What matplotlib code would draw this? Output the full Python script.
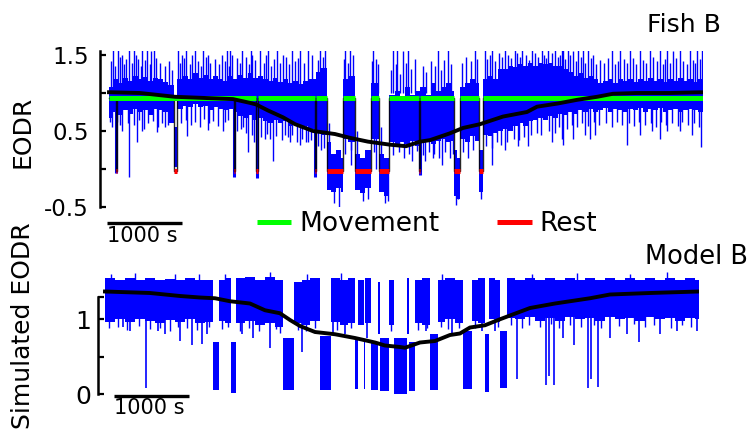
"""
EODR of fish B (recorded) and model B (simulated), with movement/rest state
"""

import numpy as np
import matplotlib.pyplot as plt

plt.rcParams.update({
    "font.family": "DejaVu Sans",
    "figure.facecolor": "white",
    "axes.facecolor": "white",
})

BLUE = "#0000ff"
GREEN = "#00ff00"
RED = "#ff0000"

# ── Fish B: EODR band (core of the noisy trace), time in s ────────────
FISH_T = [0, 53, 120, 187, 253, 320, 387, 453, 520, 587,
          653, 720, 787, 860, 913, 987, 1053, 1120, 1187, 1253,
          1320, 1387, 1453, 1520, 1587, 1653, 1720, 1787, 1853, 1920,
          1987, 2053, 2120, 2187, 2253, 2320, 2387, 2453, 2520, 2587,
          2653, 2760, 2827, 2903, 2960, 3027, 3093, 3116, 3187, 3280,
          3347, 3413, 3493, 3604, 3667, 3737, 3813, 3880, 3947, 4013,
          4080, 4153, 4227, 4293, 4360, 4427, 4493, 4560, 4604, 4640,
          4680, 4747, 4813, 4880, 4933, 4987, 5053, 5120, 5187, 5253,
          5320, 5387, 5453, 5520, 5587, 5653, 5720, 5787, 5853, 5920,
          5987, 6053, 6120, 6187, 6253, 6320, 6387, 6453, 6520, 6587,
          6653, 6720, 6787, 6853, 6920, 6987, 7053, 7120, 7187, 7253,
          7320, 7387, 7453, 7520, 7587, 7653, 7720, 7787, 7853, 7920]
FISH_HI = [1.08, 1.18, 1.13, 1.20, 1.16, 1.23, 1.18, 1.21, 1.16, 1.20,
           1.18, 1.14, 1.10, 0.55, 1.18, 1.23, 1.18, 1.26, 1.20, 1.24,
           1.18, 1.22, 1.18, 1.16, 1.22, 1.18, 1.24, 1.20, 1.26, 1.20,
           1.23, 1.18, 1.16, 1.20, 1.14, 1.18, 1.13, 1.16, 1.12, 1.16,
           1.18, 1.28, 1.33, 0.35, 0.20, 0.25, 0.15, 1.18, 1.23, 0.20,
           0.15, 0.25, 1.13, 0.20, 0.15, 0.98, 1.03, 0.93, 1.08, 0.98,
           1.03, 1.08, 0.98, 1.13, 1.03, 1.08, 1.13, 1.03, 0.25, 0.15,
           1.08, 1.13, 1.18, 1.13, 0.25, 1.18, 1.23, 1.18, 1.32, 1.32,
           1.36, 1.34, 1.38, 1.36, 1.40, 1.36, 1.40, 1.38, 1.40, 1.36,
           1.36, 1.32, 1.28, 1.23, 1.26, 1.20, 1.23, 1.18, 1.13, 1.16,
           1.18, 1.13, 1.18, 1.16, 1.18, 1.14, 1.18, 1.16, 1.20, 1.16,
           1.18, 1.14, 1.18, 1.16, 1.20, 1.16, 1.18, 1.14, 1.18, 1.18]
FISH_LO = [0.67, 0.75, 0.71, 0.77, 0.73, 0.79, 0.75, 0.77, 0.71, 0.79,
           0.77, 0.75, 0.60, 0.03, 0.79, 0.83, 0.81, 0.85, 0.81, 0.83,
           0.77, 0.81, 0.79, 0.77, 0.79, 0.75, 0.70, 0.67, 0.71, 0.65,
           0.67, 0.63, 0.60, 0.65, 0.60, 0.63, 0.57, 0.60, 0.55, 0.57,
           0.53, 0.50, 0.45, -0.28, -0.30, -0.25, -0.30, 0.40, 0.35, -0.28,
           -0.32, -0.25, 0.40, -0.30, -0.35, 0.35, 0.30, 0.35, 0.33, 0.37,
           0.30, 0.35, 0.40, 0.33, 0.37, 0.40, 0.35, 0.37, -0.35, -0.40,
           0.40, 0.35, 0.43, 0.37, -0.30, 0.45, 0.43, 0.47, 0.50, 0.53,
           0.50, 0.57, 0.60, 0.57, 0.63, 0.65, 0.67, 0.65, 0.70, 0.67,
           0.73, 0.71, 0.75, 0.73, 0.77, 0.75, 0.79, 0.75, 0.77, 0.80,
           0.75, 0.79, 0.77, 0.75, 0.79, 0.77, 0.80, 0.75, 0.79, 0.77,
           0.80, 0.75, 0.77, 0.79, 0.75, 0.77, 0.79, 0.77, 0.75, 0.75]

# tall spikes of the fish trace (reaching the top of the panel)
FISH_UP_T = [53, 120, 173, 267, 333, 387, 440, 507, 560, 600,
             920, 973, 1027, 1147, 1253, 1320, 1573, 1613, 1640, 1773,
             1893, 1907, 2013, 2120, 2240, 2320, 2440, 2547, 2653, 2813,
             2880, 3147, 3213, 3520, 3560, 3787, 3840, 3920, 3987, 4387,
             4520, 4880, 5013, 5107, 5280, 5413, 5507, 5640, 5773, 5853,
             5947, 6040, 6053, 6120, 6187, 6253, 6320, 6387, 6453, 6707,
             6813, 6947, 7080, 7213, 7347, 7440, 7520, 7613, 7747, 7840, 7907]
FISH_UP_V = [1.6, 1.6, 1.5, 1.6, 1.6, 1.45, 1.6, 1.6, 1.55, 1.6,
             1.6, 1.5, 1.6, 1.6, 1.6, 1.5, 1.6, 1.6, 1.5, 1.6,
             1.6, 1.5, 1.6, 1.6, 1.6, 1.5, 1.6, 1.6, 1.6, 1.6,
             1.6, 1.6, 1.6, 1.6, 1.45, 1.6, 1.6, 1.55, 1.6, 1.6,
             1.6, 1.6, 1.6, 1.6, 1.6, 1.6, 1.6, 1.6, 1.6, 1.6,
             1.6, 1.6, 1.6, 1.6, 1.55, 1.6, 1.6, 1.6, 1.5, 1.6,
             1.6, 1.6, 1.6, 1.6, 1.6, 1.6, 1.55, 1.6, 1.6, 1.6, 1.6]
# shorter upward excursions
FISH_MID_UP_T = [20, 75, 140, 200, 230, 300, 360, 420, 480, 540,
                 620, 680, 740, 800, 840,
                 940, 1000, 1080, 1110, 1180, 1220, 1290, 1350, 1410, 1470,
                 1500, 1550, 1600, 1700, 1740, 1820, 1860, 1940, 2060, 2090,
                 2160, 2200, 2280, 2360, 2400, 2480, 2520, 2600, 2700, 2780, 2850,
                 3130, 3180, 3250, 3510, 3580,
                 3760, 3820, 3880, 3960, 4030, 4080, 4180, 4230, 4290, 4340,
                 4420, 4470, 4560, 4700, 4760, 4820, 4910,
                 5040, 5080, 5150, 5200, 5240, 5320, 5360, 5440, 5480, 5560,
                 5600, 5680, 5720, 5800, 5830, 5900, 5980, 6010, 6080, 6150,
                 6220, 6290, 6350, 6420, 6490, 6550, 6600, 6650, 6750, 6780,
                 6860, 6900, 6980, 7030, 7120, 7160, 7250, 7300, 7380, 7410,
                 7480, 7560, 7650, 7700, 7780, 7810, 7880]
FISH_MID_UP_V = [1.42, 1.35, 1.48, 1.38, 1.45, 1.40, 1.50, 1.36, 1.44, 1.38,
                 1.46, 1.40, 1.35, 1.42, 1.30,
                 1.40, 1.46, 1.38, 1.50, 1.42, 1.36, 1.48, 1.40, 1.45, 1.38,
                 1.50, 1.42, 1.36, 1.46, 1.40, 1.48, 1.38, 1.44, 1.40, 1.50,
                 1.36, 1.45, 1.40, 1.48, 1.38, 1.42, 1.46, 1.40, 1.50, 1.44, 1.48,
                 1.45, 1.40, 1.50, 1.42, 1.38,
                 1.30, 1.38, 1.25, 1.40, 1.32, 1.45, 1.35, 1.28, 1.42, 1.36,
                 1.30, 1.44, 1.38, 1.40, 1.48, 1.42, 1.45,
                 1.45, 1.50, 1.42, 1.52, 1.48, 1.50, 1.46, 1.52, 1.48, 1.50,
                 1.44, 1.52, 1.48, 1.50, 1.46, 1.52, 1.48, 1.50, 1.45, 1.50,
                 1.42, 1.48, 1.40, 1.46, 1.38, 1.44, 1.40, 1.46, 1.38, 1.42,
                 1.45, 1.40, 1.46, 1.38, 1.44, 1.40, 1.48, 1.42, 1.38, 1.45,
                 1.40, 1.46, 1.42, 1.38, 1.44, 1.40, 1.45]
# deep downward excursions
FISH_DN_T = [13, 147, 267, 373, 440, 640, 747, 1040, 1320, 1520,
             1787, 1853, 1933, 2080, 2187, 2347, 2413, 2547, 2653, 2827,
             3227, 3560, 4040, 4213, 4320, 4440, 4547, 4787, 5107, 5280,
             5453, 5587, 5907, 6040, 6053, 6187, 6347, 6413, 6480, 6907,
             7080, 7240, 7347, 7440, 7613, 7773, 7893]
FISH_DN_V = [0.62, 0.58, -0.10, 0.36, 0.50, 0.49, 0.55, 0.43, 0.51, 0.50,
             0.55, 0.23, 0.35, 0.40, 0.10, 0.45, 0.35, 0.32, 0.35, 0.25,
             0.05, 0.00, 0.10, 0.10, 0.15, 0.05, 0.15, 0.15, 0.05, 0.25,
             0.30, 0.30, 0.35, 0.40, 0.32, 0.40, 0.45, 0.40, 0.45, 0.32,
             0.45, 0.50, 0.40, 0.50, 0.50, 0.45, 0.29]
# shorter downward excursions
FISH_MID_DN_T = [40, 110, 170, 250, 330, 400, 460, 520, 590, 650,
                 710, 780, 830,
                 960, 1020, 1090, 1150, 1210, 1270, 1330, 1390, 1450, 1540,
                 1590, 1700, 1760, 1830, 1900, 2020, 2100, 2150, 2230, 2300,
                 2380, 2440, 2500, 2570, 2620, 2690, 2790, 2870,
                 3150, 3220, 3530,
                 3790, 3860, 3930, 4000, 4100, 4190, 4260, 4330, 4400, 4480,
                 4580, 4720, 4850,
                 5020, 5100, 5170, 5220, 5300, 5400, 5470, 5530, 5620, 5700,
                 5760, 5860, 5940, 6000, 6100, 6170, 6240, 6310, 6380, 6460,
                 6530, 6620, 6700, 6770, 6840, 6930, 7000, 7070, 7140, 7220,
                 7290, 7360, 7430, 7500, 7580, 7640, 7720, 7800, 7860]
FISH_MID_DN_V = [0.55, 0.62, 0.50, 0.60, 0.58, 0.65, 0.52, 0.60, 0.63, 0.55,
                 0.60, 0.58, 0.62,
                 0.60, 0.65, 0.58, 0.62, 0.55, 0.66, 0.60, 0.63, 0.57, 0.62,
                 0.64, 0.50, 0.52, 0.48, 0.45, 0.42, 0.46, 0.40, 0.44, 0.38,
                 0.42, 0.45, 0.36, 0.40, 0.35, 0.38, 0.30, 0.28,
                 0.20, 0.25, 0.22,
                 0.18, 0.22, 0.15, 0.20, 0.24, 0.18, 0.22, 0.20, 0.15, 0.22,
                 0.20, 0.22, 0.25,
                 0.30, 0.28, 0.35, 0.32, 0.36, 0.40, 0.38, 0.42, 0.45, 0.48,
                 0.45, 0.50, 0.48, 0.55, 0.52, 0.58, 0.55, 0.60, 0.56, 0.62,
                 0.58, 0.60, 0.55, 0.62, 0.58, 0.60, 0.56, 0.62, 0.58, 0.60,
                 0.55, 0.62, 0.58, 0.60, 0.56, 0.62, 0.58, 0.60, 0.55]
# excursions during the long rest bouts
FISH_REST_SPIKE_T = [2930, 3000, 3060, 3300, 3380, 3450, 3620, 3680, 3720,
                     4620, 4650, 4960]
FISH_REST_SPIKE_V = [0.60, -0.45, -0.50, 0.50, -0.42, -0.40, 0.55, -0.45, -0.42,
                     -0.47, -0.40, -0.40]
# short rest bouts (narrow dips)
FISH_DIP_T = [95, 1670, 1973, 2750, 4140]
FISH_DIP_V = [-0.05, -0.10, -0.12, -0.10, -0.08]

# movement / rest state of the fish
MOVE_START = [0, 1987, 2760, 3116, 3493, 3737, 4153, 4680, 4987]
MOVE_END = [1960, 2740, 2903, 3280, 3604, 4127, 4604, 4933, 7920]
REST_START = [87, 860, 1660, 1960, 2740, 2903, 3280, 3604, 4127, 4604, 4933]
REST_END = [107, 913, 1680, 1987, 2760, 3116, 3493, 3737, 4153, 4680, 4987]
MOVE_LEVEL = 0.94
REST_LEVEL = -0.03

# smoothed fish EODR
FISH_SMOOTH_T = [0, 413, 880, 1653, 1880, 1960, 2120, 2320, 2480, 2720,
                 3013, 3213, 3453, 3747, 3960, 4147, 4280, 4547, 4720, 4947,
                 5253, 5573, 5707, 5973, 6240, 6507, 6720, 7040, 7480, 7920]
FISH_SMOOTH_V = [1.01, 1.00, 0.95, 0.92, 0.87, 0.85, 0.77, 0.68, 0.59, 0.50,
                 0.46, 0.41, 0.36, 0.32, 0.30, 0.36, 0.38, 0.47, 0.54, 0.59,
                 0.69, 0.75, 0.82, 0.86, 0.91, 0.95, 0.99, 1.00, 1.00, 1.01]

# ── Model B: simulated EODR band ─────────────────────────────────────
MODEL_T = [0, 133, 267, 400, 533, 667, 800, 933, 1067, 1200,
           1333, 1436, 1516, 1600, 1676, 1743, 1867, 2000, 2133, 2267,
           2377, 2520, 2627, 2733, 2867, 3013, 3133, 3240, 3333, 3377,
           3447, 3473, 3547, 3640, 3667, 3791, 3853, 4027, 4060, 4133,
           4227, 4333, 4436, 4533, 4667, 4777, 4889, 4973, 5067, 5124,
           5200, 5267, 5356, 5467, 5600, 5733, 5867, 6000, 6133, 6267,
           6400, 6533, 6667, 6800, 6933, 7067, 7200, 7333, 7467, 7600,
           7733, 7867, 7920]
MODEL_HI = [1.55, 1.52, 1.55, 1.53, 1.55, 1.52, 1.54, 1.52, 1.55, 1.53,
            1.52, 0.70, 1.52, 1.55, 0.70, 1.55, 1.56, 1.53, 1.57, 1.52,
            0.75, 1.50, 1.52, 1.55, 0.78, 1.55, 1.52, 1.55, 0.75, 1.52,
            0.70, 1.55, 0.70, 1.50, 0.75, 1.52, 0.75, 1.55, 0.70, 1.52,
            1.55, 0.80, 1.52, 1.55, 1.53, 0.85, 1.52, 1.55, 0.80, 1.55,
            1.53, 0.85, 1.55, 1.53, 1.55, 1.52, 1.55, 1.53, 1.55, 1.52,
            1.55, 1.53, 1.55, 1.52, 1.55, 1.53, 1.55, 1.52, 1.55, 1.53,
            1.55, 1.53, 1.53]
MODEL_LO = [0.97, 1.00, 0.96, 1.00, 0.98, 0.95, 0.99, 0.96, 1.00, 0.95,
            0.97, 0.06, 0.98, 0.95, 0.02, 0.95, 0.98, 0.92, 0.95, 0.90,
            0.06, 0.95, 0.92, 0.98, 0.06, 0.96, 0.92, 0.95, 0.07, 0.93,
            0.07, 0.95, 0.06, 0.80, 0.05, 0.92, 0.00, 0.80, 0.05, 0.95,
            0.92, 0.06, 0.96, 1.00, 0.95, 0.07, 0.98, 0.95, 0.03, 1.00,
            0.97, 0.08, 1.02, 1.00, 1.03, 0.98, 1.02, 0.98, 1.03, 1.00,
            1.02, 0.98, 1.03, 1.00, 1.02, 0.98, 1.03, 1.00, 1.02, 0.98,
            1.02, 1.00, 1.00]

MODEL_DN_T = [240, 333, 547, 707, 800, 1000, 1160, 1293, 1360, 1827,
              1973, 2200, 2627, 3040, 3200, 3493, 4280, 4627, 5027, 5200,
              5489, 5880, 5920, 5987, 6107, 6253, 6440, 6480, 6569, 6733,
              6960, 7120, 7400, 7627, 7893]
MODEL_DN_V = [0.90, 0.85, 0.09, 0.85, 0.80, 0.71, 0.66, 0.67, 0.80, 0.80,
              0.75, 0.62, 0.57, 0.80, 0.80, 0.75, 0.85, 0.80, 0.85, 0.85,
              0.21, 0.12, 0.25, 0.12, 0.75, 0.66, 0.08, 0.20, 0.10, 0.75,
              0.80, 0.70, 0.80, 0.85, 0.85]
MODEL_MID_DN_T = [60, 180, 300, 450, 600, 740, 870, 980, 1100, 1230,
                  1390, 1560, 1640, 1800, 1920, 2060, 2280, 2340, 2580, 2680,
                  2800, 3100, 3280, 3820, 4180, 4300, 4480, 4580, 4720, 4940,
                  5240, 5420, 5560, 5650, 5800, 5950, 6050, 6200, 6350, 6520,
                  6620, 6850, 7050, 7200, 7320, 7550, 7700, 7820]
MODEL_MID_DN_V = [0.88, 0.90, 0.86, 0.91, 0.87, 0.89, 0.85, 0.90, 0.88, 0.86,
                  0.90, 0.87, 0.90, 0.85, 0.88, 0.84, 0.87, 0.82, 0.86, 0.84,
                  0.88, 0.86, 0.88, 0.85, 0.86, 0.88, 0.90, 0.87, 0.89, 0.88,
                  0.90, 0.92, 0.88, 0.93, 0.90, 0.94, 0.89, 0.92, 0.90, 0.93,
                  0.88, 0.91, 0.94, 0.90, 0.92, 0.89, 0.93, 0.90]
MODEL_UP_T = [80, 400, 933, 1250, 1600, 2200, 2700, 3150, 4500, 5700,
              6300, 7000, 7500]
MODEL_UP_V = [1.60, 1.62, 1.60, 1.61, 1.60, 1.63, 1.60, 1.62, 1.61, 1.60,
              1.62, 1.60, 1.63]

MODEL_SMOOTH_T = [0, 600, 1000, 1267, 1467, 1667, 1933, 2133, 2333, 2467,
                  2600, 2800, 3067, 3333, 3600, 3733, 3933, 4000, 4200, 4400,
                  4600, 4733, 4867, 5067, 5267, 5667, 6000, 6467, 6733, 7267, 7920]
MODEL_SMOOTH_V = [1.37, 1.35, 1.31, 1.29, 1.28, 1.24, 1.21, 1.12, 1.08, 0.99,
                  0.91, 0.83, 0.80, 0.75, 0.69, 0.65, 0.63, 0.62, 0.69, 0.71,
                  0.79, 0.81, 0.89, 0.92, 1.00, 1.15, 1.21, 1.28, 1.33, 1.35, 1.37]

SCALE_S = 1000  # scale bar length


def style_axis(ax, ticks, labels, labelsize, pad):
    for side in ("top", "right", "bottom"):
        ax.spines[side].set_visible(False)
    ax.spines["left"].set_linewidth(1.8)
    ax.set_xticks([])
    ax.set_yticks(ticks)
    ax.set_yticklabels(labels)
    ax.tick_params(axis="y", direction="in", length=4.5, width=1.6,
                   labelsize=labelsize, pad=pad)


fig = plt.figure(figsize=(7.51, 4.38), dpi=100)

# ── Top: Fish B ──────────────────────────────────────────────────────
ax1 = fig.add_axes([100 / 751, 231 / 438, 603 / 751, 155.8 / 438])
ax1.set_xlim(-120, 7920)
ax1.set_ylim(-0.5, 1.55)

ax1.fill_between(FISH_T, FISH_LO, FISH_HI, step="post", color=BLUE, lw=0, zorder=1)
ax1.vlines(FISH_UP_T, 1.0, FISH_UP_V, color=BLUE, lw=1.0, zorder=1)
ax1.vlines(FISH_MID_UP_T, 1.0, FISH_MID_UP_V, color=BLUE, lw=1.0, zorder=1)
ax1.vlines(FISH_DN_T, 0.9, FISH_DN_V, color=BLUE, lw=1.0, zorder=1)
ax1.vlines(FISH_MID_DN_T, 0.9, FISH_MID_DN_V, color=BLUE, lw=1.0, zorder=1)
ax1.vlines(FISH_REST_SPIKE_T, 0.0, FISH_REST_SPIKE_V, color=BLUE, lw=1.0, zorder=1)
ax1.vlines(FISH_DIP_T, 0.8, FISH_DIP_V, color=BLUE, lw=2.2, zorder=1)

# state trace (thin black), drawn under the movement / rest bars
step_x, step_y = [0], [MOVE_LEVEL]
for s, e in zip(REST_START, REST_END):
    step_x += [s, s, e, e]
    step_y += [MOVE_LEVEL, REST_LEVEL, REST_LEVEL, MOVE_LEVEL]
step_x.append(7920)
step_y.append(MOVE_LEVEL)
ax1.plot(step_x, step_y, color="black", lw=1.0, alpha=0.85, zorder=2)

move = ax1.hlines([MOVE_LEVEL] * len(MOVE_START), MOVE_START, MOVE_END,
                  color=GREEN, lw=3.6, zorder=3)
rest = ax1.hlines([REST_LEVEL] * len(REST_START), REST_START, REST_END,
                  color=RED, lw=3.6, zorder=3)
ax1.plot(FISH_SMOOTH_T, FISH_SMOOTH_V, color="black", lw=2.8, zorder=4)

style_axis(ax1, [-0.5, 0, 0.5, 1.0, 1.5], ["-0.5", "", "0.5", "", "1.5"], 16.5, 8)

ax1.plot([-27, -27 + SCALE_S], [-0.71, -0.71], color="black", lw=2.4,
         solid_capstyle="butt", clip_on=False)
ax1.text(-27, -0.88, "1000 s", fontsize=15, ha="left", va="center", clip_on=False)

# ── Bottom: Model B ──────────────────────────────────────────────────
ax2 = fig.add_axes([98 / 751, 41.5 / 438, 601 / 751, 126 / 438])
ax2.set_xlim(-93, 7920)
ax2.set_ylim(-0.03, 1.65)

ax2.fill_between(MODEL_T, MODEL_LO, MODEL_HI, step="post", color=BLUE, lw=0, zorder=1)
ax2.vlines(MODEL_DN_T, 1.2, MODEL_DN_V, color=BLUE, lw=1.2, zorder=1)
ax2.vlines(MODEL_MID_DN_T, 1.2, MODEL_MID_DN_V, color=BLUE, lw=1.0, zorder=1)
ax2.vlines(MODEL_UP_T, 1.3, MODEL_UP_V, color=BLUE, lw=1.0, zorder=1)
ax2.plot(MODEL_SMOOTH_T, MODEL_SMOOTH_V, color="black", lw=2.8, zorder=4)

style_axis(ax2, [0, 0.5, 1.0, 1.3], ["0", "", "1", ""], 18, 5)
ax2.spines["left"].set_bounds(0, 1.3)

ax2.plot([120, 120 + SCALE_S], [-0.02, -0.02], color="black", lw=2.4,
         solid_capstyle="butt", clip_on=False)
ax2.text(120, -0.18, "1000 s", fontsize=15, ha="left", va="center", clip_on=False)

# ── Labels, titles, legend ───────────────────────────────────────────
fig.text(23 / 751, 1 - 132 / 438, "EODR", rotation=90, fontsize=18,
         ha="center", va="center")
fig.text(23 / 751, 1 - 326 / 438, "Simulated EODR", rotation=90, fontsize=18,
         ha="center", va="center")
fig.text(721 / 751, 1 - 25 / 438, "Fish B", fontsize=18, ha="right", va="center")
fig.text(645 / 751, 1 - 257 / 438, "Model B", fontsize=18.5, ha="left", va="center")

fig.legend([move, rest], ["Movement", "Rest"], loc="center",
           bbox_to_anchor=(427 / 751, 1 - 224 / 438), ncol=2, frameon=False,
           fontsize=19, handlelength=1.3, handletextpad=0.3, columnspacing=2.2,
           borderpad=0, borderaxespad=0)

fig.savefig("out.png", dpi=100)
